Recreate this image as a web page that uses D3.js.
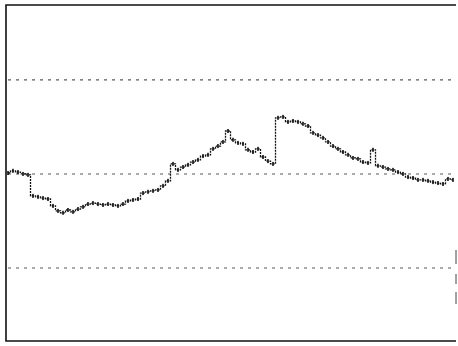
<!DOCTYPE html>
<html>
<head>
<meta charset="utf-8">
<script src="https://cdn.jsdelivr.net/npm/d3@7"></script>
<style>
  html, body { margin: 0; padding: 0; background: #fff; }
  svg { display: block; }
</style>
</head>
<body>
<svg id="chart" width="458" height="346"></svg>
<script>
// Control-chart readings (sample order) and their limits
const samples = d3.range(90);
const readings = [
  0.03, 0.10, 0.06, 0.00, -0.03, -0.70, -0.73, -0.77, -0.80, -1.02,
  -1.18, -1.24, -1.15, -1.21, -1.12, -1.05, -0.96, -0.93, -0.96, -0.99,
  -0.96, -0.99, -1.02, -0.96, -0.86, -0.83, -0.80, -0.61, -0.57, -0.54,
  -0.51, -0.38, -0.22, 0.32, 0.13, 0.22, 0.29, 0.38, 0.45, 0.57,
  0.61, 0.80, 0.89, 1.02, 1.37, 1.09, 0.99, 0.96, 0.77, 0.70,
  0.80, 0.54, 0.41, 0.32, 1.79, 1.82, 1.66, 1.69, 1.66, 1.60,
  1.53, 1.31, 1.24, 1.15, 1.02, 0.89, 0.80, 0.70, 0.61, 0.51,
  0.48, 0.38, 0.35, 0.77, 0.26, 0.22, 0.16, 0.13, 0.06, 0.00,
  -0.10, -0.13, -0.19, -0.19, -0.22, -0.26, -0.29, -0.32, -0.16, -0.19
];
const limitValues = [3, 0, -3];          // upper limit, centre line, lower limit
const yDomain = [-5.33, 5.39];

const svg = d3.select("#chart");
const frame = { left: 6, right: 456, top: 5, bottom: 341 };

const x = d3.scaleLinear().domain([0, samples.length - 1]).range([8, 453]);
const y = d3.scaleLinear().domain(yDomain).range([frame.bottom, frame.top]);

// Plot frame
svg.append("path")
  .attr("d", `M${frame.right},${frame.top} H${frame.left} V${frame.bottom} H${frame.right}`)
  .attr("fill", "none").attr("stroke", "#111").attr("stroke-width", 1.6);
svg.append("line")
  .attr("x1", frame.right).attr("x2", frame.right)
  .attr("y1", frame.top).attr("y2", frame.bottom)
  .attr("stroke", "#444").attr("stroke-width", 1)
  .attr("stroke-dasharray", "0,245,14,10,10,8,12,20");

// Limit and centre lines
svg.selectAll("line.limit").data(limitValues).join("line")
  .attr("class", "limit")
  .attr("x1", frame.left + 2).attr("x2", frame.right - 2)
  .attr("y1", d => y(d)).attr("y2", d => y(d))
  .attr("stroke", "#222").attr("stroke-width", 1.1)
  .attr("stroke-opacity", 0.75)
  .attr("stroke-dasharray", "3,5");

// Readings as a stepped trace
const pts = samples.map((s, i) => [s, readings[i]]);
const step = d3.line()
  .x(d => x(d[0])).y(d => y(d[1]))
  .curve(d3.curveStep);
svg.append("path")
  .datum(pts)
  .attr("d", step)
  .attr("fill", "none").attr("stroke", "#111")
  .attr("stroke-width", 1.3)
  .attr("stroke-dasharray", "2,1");

// Small tick marks at each reading
svg.selectAll("rect.mark").data(pts).join("rect")
  .attr("class", "mark")
  .attr("x", d => x(d[0]) - 1).attr("y", d => y(d[1]) - 2)
  .attr("width", 2).attr("height", 4)
  .attr("fill", "#111").attr("fill-opacity", 0.8);
</script>
</body>
</html>
